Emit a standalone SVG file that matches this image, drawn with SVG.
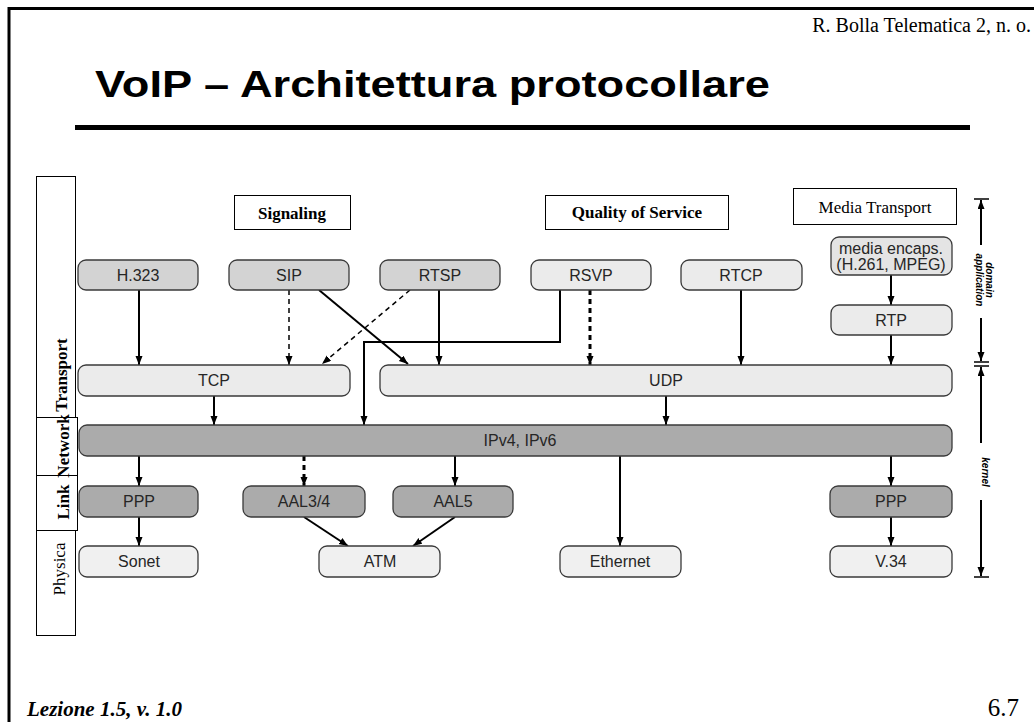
<svg xmlns="http://www.w3.org/2000/svg" width="1034" height="722" viewBox="0 0 1034 722">
<style>
.nd{stroke:#3a3a3a;stroke-width:1.3}
.mid{fill:#d3d3d3}
.lt{fill:#ebebeb}
.dk{fill:#ababab}
.ph{fill:#f0f0f0}
.nt{font-family:"Liberation Sans",Arial,sans-serif;font-size:16px;fill:#262626;text-anchor:middle}
.lab{font-family:"Liberation Serif","Times New Roman",serif;font-size:17px;fill:#000;text-anchor:middle}
.ln{stroke:#000;stroke-width:2;fill:none}
.ds{stroke:#000;stroke-width:1.5;fill:none;stroke-dasharray:5 4}
.ds2{stroke:#000;stroke-width:3;fill:none;stroke-dasharray:5 4}
.box{fill:#fff;stroke:#000;stroke-width:1}
.dom{font-family:"Liberation Sans",Arial,sans-serif;font-size:10px;font-style:italic;font-weight:bold;text-anchor:middle}
</style>
<defs>
<marker id="ah" markerUnits="userSpaceOnUse" markerWidth="10" markerHeight="8" refX="9" refY="3.5" orient="auto">
<path d="M0,0 L9,3.5 L0,7 z" fill="#000"/>
</marker>
</defs>
<rect width="1034" height="722" fill="#fff"/>
<path d="M9,722 V8.5 H1034" stroke="#000" stroke-width="3" fill="none"/>
<text x="1031" y="32" font-family="Liberation Serif,serif" font-size="20" text-anchor="end">R. Bolla Telematica 2, n. o.</text>
<text x="95" y="97" font-family="Liberation Sans,Arial,sans-serif" font-size="36" font-weight="bold" textLength="675" lengthAdjust="spacingAndGlyphs">VoIP – Architettura protocollare</text>
<rect x="75" y="125" width="895" height="5" fill="#000"/>
<text x="27" y="716" font-family="Liberation Serif,serif" font-size="21" font-weight="bold" font-style="italic">Lezione 1.5, v. 1.0</text>
<text x="1019" y="716" font-family="Liberation Serif,serif" font-size="25" text-anchor="end">6.7</text>

<g id="layers">
<rect class="box" x="36.5" y="176.5" width="39" height="241"/>
<rect class="box" x="36.5" y="417.5" width="41" height="58"/>
<rect class="box" x="36.5" y="475.5" width="41" height="55"/>
<rect class="box" x="36.5" y="530.5" width="39" height="105"/>
<text transform="translate(67,375) rotate(-90)" class="lab" font-size="14" font-weight="bold">Transport</text>
<text transform="translate(69,446) rotate(-90)" class="lab" font-size="16" font-weight="bold">Network</text>
<text transform="translate(69,502) rotate(-90)" class="lab" font-size="17" font-weight="bold">Link</text>
<text transform="translate(65,569) rotate(-90)" class="lab" font-size="17">Physica</text>
</g>

<g id="labels">
<rect class="box" x="234.5" y="195.5" width="116" height="34"/>
<text x="292" y="219" class="lab" font-weight="bold">Signaling</text>
<rect class="box" x="545.5" y="195.5" width="183" height="34"/>
<text x="637" y="218" class="lab" font-weight="bold">Quality of Service</text>
<rect class="box" x="793.5" y="188.5" width="163" height="36"/>
<text x="875" y="213" class="lab" font-size="18">Media Transport</text>
</g>

<g id="connectors">
<line class="ln" x1="139" y1="290" x2="139" y2="365" marker-end="url(#ah)"/>
<line class="ds" x1="289" y1="290" x2="289" y2="365" marker-end="url(#ah)"/>
<line class="ln" x1="319" y1="290" x2="408" y2="364" marker-end="url(#ah)"/>
<line class="ds" x1="410" y1="290" x2="322" y2="364" marker-end="url(#ah)"/>
<line class="ln" x1="439" y1="290" x2="439" y2="365" marker-end="url(#ah)"/>
<polyline class="ln" points="560,290 560,342 364,342 364,425" marker-end="url(#ah)"/>
<line class="ds2" x1="590" y1="290" x2="590" y2="365" marker-end="url(#ah)"/>
<line class="ln" x1="741" y1="290" x2="741" y2="365" marker-end="url(#ah)"/>
<line class="ln" x1="891" y1="275" x2="891" y2="305" marker-end="url(#ah)"/>
<line class="ln" x1="891" y1="335" x2="891" y2="365" marker-end="url(#ah)"/>
<line class="ln" x1="214" y1="396" x2="214" y2="425" marker-end="url(#ah)"/>
<line class="ln" x1="666" y1="396" x2="666" y2="425" marker-end="url(#ah)"/>
<line class="ln" x1="139" y1="456" x2="139" y2="486" marker-end="url(#ah)"/>
<line class="ds2" x1="304" y1="456" x2="304" y2="486" marker-end="url(#ah)"/>
<line class="ln" x1="455" y1="456" x2="455" y2="486" marker-end="url(#ah)"/>
<line class="ln" x1="620" y1="456" x2="620" y2="546" marker-end="url(#ah)"/>
<line class="ln" x1="891" y1="456" x2="891" y2="486" marker-end="url(#ah)"/>
<line class="ln" x1="139" y1="517" x2="139" y2="546" marker-end="url(#ah)"/>
<line class="ln" x1="304" y1="517" x2="348" y2="546" marker-end="url(#ah)"/>
<line class="ln" x1="455" y1="517" x2="413" y2="546" marker-end="url(#ah)"/>
<line class="ln" x1="891" y1="517" x2="891" y2="546" marker-end="url(#ah)"/>
</g>

<g id="n-h323"><rect class="nd mid" x="78" y="260" width="120" height="30" rx="8"/><text class="nt" x="138" y="281">H.323</text></g>
<g id="n-sip"><rect class="nd mid" x="229" y="260" width="120" height="30" rx="8"/><text class="nt" x="289" y="281">SIP</text></g>
<g id="n-rtsp"><rect class="nd mid" x="380" y="260" width="120" height="30" rx="8"/><text class="nt" x="440" y="281">RTSP</text></g>
<g id="n-rsvp"><rect class="nd lt" x="531" y="260" width="120" height="30" rx="8"/><text class="nt" x="591" y="281">RSVP</text></g>
<g id="n-rtcp"><rect class="nd lt" x="681" y="260" width="121" height="30" rx="8"/><text class="nt" x="741" y="281">RTCP</text></g>
<g id="n-media"><rect class="nd" fill="#e4e4e4" x="831" y="237" width="121" height="38" rx="8"/><text class="nt" x="891" y="254" font-size="13">media encaps.</text><text class="nt" x="891" y="270" font-size="13">(H.261, MPEG)</text></g>
<g id="n-rtp"><rect class="nd lt" x="831" y="305" width="121" height="30" rx="8"/><text class="nt" x="891" y="326">RTP</text></g>
<g id="n-tcp"><rect class="nd lt" x="78" y="365" width="272" height="31" rx="8"/><text class="nt" x="214" y="386">TCP</text></g>
<g id="n-udp"><rect class="nd lt" x="380" y="365" width="572" height="31" rx="8"/><text class="nt" x="666" y="386">UDP</text></g>
<g id="n-ip"><rect class="nd dk" x="79" y="425" width="873" height="31" rx="8"/><text class="nt" x="520" y="446">IPv4, IPv6</text></g>
<g id="n-ppp1"><rect class="nd dk" x="79" y="486" width="119" height="31" rx="8"/><text class="nt" x="139" y="507">PPP</text></g>
<g id="n-aal34"><rect class="nd dk" x="243" y="486" width="122" height="31" rx="8"/><text class="nt" x="304" y="507">AAL3/4</text></g>
<g id="n-aal5"><rect class="nd dk" x="393" y="486" width="120" height="31" rx="8"/><text class="nt" x="453" y="507">AAL5</text></g>
<g id="n-ppp2"><rect class="nd dk" x="830" y="486" width="122" height="31" rx="8"/><text class="nt" x="891" y="507">PPP</text></g>
<g id="n-sonet"><rect class="nd ph" x="79" y="546" width="119" height="31" rx="8"/><text class="nt" x="139" y="567">Sonet</text></g>
<g id="n-atm"><rect class="nd ph" x="319" y="546" width="121" height="31" rx="8"/><text class="nt" x="380" y="567">ATM</text></g>
<g id="n-eth"><rect class="nd ph" x="560" y="546" width="121" height="31" rx="8"/><text class="nt" x="620" y="567">Ethernet</text></g>
<g id="n-v34"><rect class="nd ph" x="830" y="546" width="122" height="31" rx="8"/><text class="nt" x="891" y="567">V.34</text></g>

<g id="domains">
<line x1="974" y1="199" x2="989" y2="199" stroke="#000" stroke-width="1.5"/>
<line class="ln" x1="981" y1="245" x2="981" y2="200" stroke-width="1.5" marker-end="url(#ah)"/>
<text transform="translate(976,280) rotate(90)" class="dom">application</text>
<text transform="translate(986,280) rotate(90)" class="dom">domain</text>
<line class="ln" x1="981" y1="318" x2="981" y2="361" stroke-width="1.5" marker-end="url(#ah)"/>
<line x1="974" y1="362" x2="989" y2="362" stroke="#000" stroke-width="1.5"/>
<line x1="974" y1="366" x2="989" y2="366" stroke="#000" stroke-width="1.5"/>
<line class="ln" x1="981" y1="443" x2="981" y2="367" stroke-width="1.5" marker-end="url(#ah)"/>
<text transform="translate(982,472) rotate(90)" class="dom">kernel</text>
<line class="ln" x1="981" y1="500" x2="981" y2="576" stroke-width="1.5" marker-end="url(#ah)"/>
<line x1="974" y1="577" x2="989" y2="577" stroke="#000" stroke-width="1.5"/>
</g>
</svg>
